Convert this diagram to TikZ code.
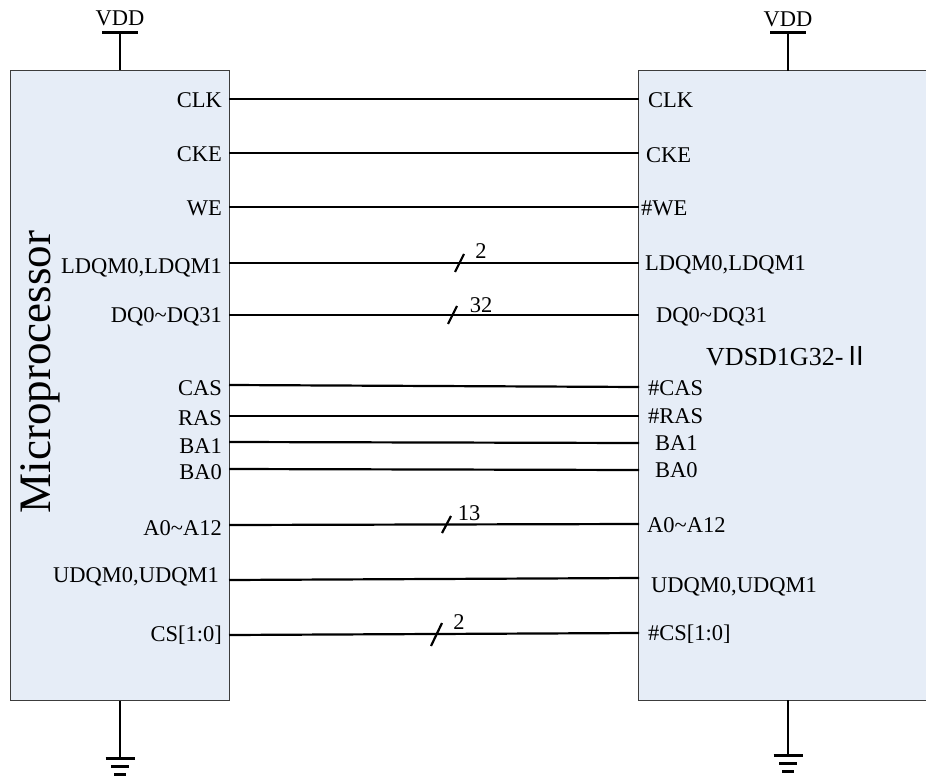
\documentclass[tikz,border=0pt]{standalone}
\usepackage{fontspec}
\setmainfont{Liberation Serif}
\newfontfamily\cjkfont{Noto Sans CJK SC}
\usepackage{tikz}

\definecolor{chipfill}{RGB}{230,237,247}
\definecolor{chipline}{RGB}{60,60,60}

\begin{document}
\begin{tikzpicture}[x=1pt, y=-1pt]
		\tikzstyle{Chip}	= [rectangle, draw=chipline, fill=chipfill, line width=1pt, inner sep=0pt]
		\tikzstyle{ChipOpen}	= [rectangle, fill=chipfill, inner sep=0pt]
		\tikzstyle{Edge}	= [chipline, line width=1pt]
		\tikzstyle{PinL}	= [anchor=base east, inner sep=0pt, font=\fontsize{22.5}{22.5}\selectfont]
		\tikzstyle{PinR}	= [anchor=base west, inner sep=0pt, font=\fontsize{22.5}{22.5}\selectfont]
		\tikzstyle{Label}	= [anchor=base, inner sep=0pt, font=\fontsize{22.5}{22.5}\selectfont]
		\tikzstyle{Wire}	= [line width=2.2pt, black]
		\tikzstyle{Bus}		= [line width=2.2pt, black]
		\tikzstyle{Rail}	= [line width=3pt, black]

		\useasboundingbox (0,0) rectangle (926,778);
		\clip (0,0) rectangle (926,778);

		\node (mcu) at (119.5, 385.5) [Chip, minimum width=219pt, minimum height=629pt] {};
		\node (mem) at (799.5, 385.5) [ChipOpen, minimum width=321pt, minimum height=629pt] {};
		\draw [Edge] (mem.north east) -- (mem.north west) -- (mem.south west) -- (mem.south east);
		\node (mcuname) at (50, 372) [rotate=90, anchor=base, inner sep=0pt, font=\fontsize{45}{45}\selectfont] {Microprocessor};
		\node (memname) at (706, 365) [anchor=base west, inner sep=0pt, font=\fontsize{26}{26}\selectfont] {VDSD1G32-{\cjkfont Ⅱ}};

		% supply
		\node (vdd1) at (120, 26) [Label] {VDD};
		\node (vdd2) at (788, 27) [Label] {VDD};
		\coordinate (p1) at (120, 33);
		\coordinate (p2) at (788, 33);
		\draw [-] (p1) to (p1 |- mcu.north) [Wire];
		\draw [-] (p2) to (p2 |- mem.north) [Wire];
		\draw [-] (102, 33) to (138, 33) [Rail];
		\draw [-] (770, 33) to (806, 33) [Rail];

		% ground
		\coordinate (g1) at (120, 758);
		\coordinate (g2) at (788, 755);
		\draw [-] (g1 |- mcu.south) to (g1) [Wire];
		\draw [-] (g2 |- mem.south) to (g2) [Wire];
		\draw [Rail] (g1) ++(-14.5, 0) -- ++(29, 0) ++(-23.5, 8) -- ++(18, 0) ++(-15, 8) -- ++(12, 0);
		\draw [Rail] (g2) ++(-14.5, 0) -- ++(29, 0) ++(-23.5, 8) -- ++(18, 0) ++(-15, 8) -- ++(12, 0);

		% pins, microprocessor side
		\coordinate (l1) at (229, 99);
		\coordinate (l2) at (229, 153);
		\coordinate (l3) at (229, 207);
		\coordinate (l4) at (229, 263);
		\coordinate (l5) at (229, 315);
		\coordinate (l6) at (229, 385);
		\coordinate (l7) at (229, 416);
		\coordinate (l8) at (229, 442);
		\coordinate (l9) at (229, 469);
		\coordinate (l10) at (229, 525);
		\coordinate (l11) at (229, 580);
		\coordinate (l12) at (229, 635);
		\node (a1) at (222, 108) [PinL] {CLK};
		\node (a2) at (222, 162) [PinL] {CKE};
		\node (a3) at (222, 215) [PinL] {WE};
		\node (a4) at (222, 273) [PinL] {LDQM0,LDQM1};
		\node (a5) at (222, 322) [PinL] {DQ0\textasciitilde DQ31};
		\node (a6) at (222, 395) [PinL] {CAS};
		\node (a7) at (222, 425) [PinL] {RAS};
		\node (a8) at (222, 453) [PinL] {BA1};
		\node (a9) at (222, 479) [PinL] {BA0};
		\node (a10) at (222, 535) [PinL] {A0\textasciitilde A12};
		\node (a11) at (219, 582) [PinL] {UDQM0,UDQM1};
		\node (a12) at (222, 641) [PinL] {CS[1:0]};

		% pins, memory side
		\coordinate (r1) at (639, 99);
		\coordinate (r2) at (639, 153);
		\coordinate (r3) at (639, 207);
		\coordinate (r4) at (639, 263);
		\coordinate (r5) at (639, 315);
		\coordinate (r6) at (639, 387);
		\coordinate (r7) at (639, 416);
		\coordinate (r8) at (639, 443);
		\coordinate (r9) at (639, 470);
		\coordinate (r10) at (639, 524);
		\coordinate (r11) at (639, 578);
		\coordinate (r12) at (639, 633);
		\node (b1) at (648, 108) [PinR] {CLK};
		\node (b2) at (646, 163) [PinR] {CKE};
		\node (b3) at (641, 215) [PinR] {\#WE};
		\node (b4) at (645, 270) [PinR] {LDQM0,LDQM1};
		\node (b5) at (656, 322) [PinR] {DQ0\textasciitilde DQ31};
		\node (b6) at (648, 395) [PinR] {\#CAS};
		\node (b7) at (648, 423) [PinR] {\#RAS};
		\node (b8) at (655, 450) [PinR] {BA1};
		\node (b9) at (655, 477) [PinR] {BA0};
		\node (b10) at (647, 532) [PinR] {A0\textasciitilde A12};
		\node (b11) at (651, 592) [PinR] {UDQM0,UDQM1};
		\node (b12) at (648, 640) [PinR] {\#CS[1:0]};

		\draw [-] (l1) to (r1) [Wire];
		\draw [-] (l2) to (r2) [Wire];
		\draw [-] (l3) to (r3) [Wire];
		\draw [-] (l4) to (r4) [Wire];
		\draw [-] (l5) to (r5) [Wire];
		\draw [-] (l6) to (r6) [Wire];
		\draw [-] (l7) to (r7) [Wire];
		\draw [-] (l8) to (r8) [Wire];
		\draw [-] (l9) to (r9) [Wire];
		\draw [-] (l10) to (r10) [Wire];
		\draw [-] (l11) to (r11) [Wire];
		\draw [-] (l12) to (r12) [Wire];

		% bus widths
		\draw [-] (455, 272) to (464, 254) [Bus];
		\draw [-] (448, 324) to (457, 306) [Bus];
		\draw [-] (442, 533) to (451, 516) [Bus];
		\draw [-] (431, 646) to (442, 623) [Bus];
		\node (w4) at (481, 258) [Label] {2};
		\node (w5) at (481, 312) [Label] {32};
		\node (w10) at (469, 520) [Label] {13};
		\node (w12) at (459, 629) [Label] {2};
	\end{tikzpicture}
\end{document}
